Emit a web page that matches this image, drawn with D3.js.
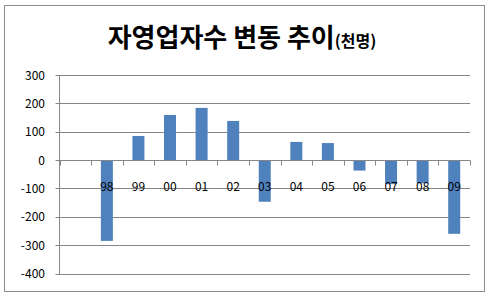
<!DOCTYPE html>
<html>
<head>
<meta charset="utf-8">
<script src="https://cdn.jsdelivr.net/npm/d3@7"></script>
<style>
  body { margin: 0; background: #fff; }
  svg { display: block; }
</style>
</head>
<body>
<svg id="chart" width="487" height="296"></svg>
<script>
// data
var years = ["", "98", "99", "00", "01", "02", "03", "04", "05", "06", "07", "08", "09"];
var changes = [null, -285, 85, 159, 184, 138, -147, 64, 60, -37, -85, -82, -260];
var yTicks = [300, 200, 100, 0, -100, -200, -300, -400];

var svg = d3.select("#chart");
var font = "'Noto Sans CJK KR', 'Malgun Gothic', sans-serif";

// outer frame
svg.append("rect")
    .attr("x", 4.5).attr("y", 5.5)
    .attr("width", 480).attr("height", 286)
    .attr("fill", "#fff")
    .attr("stroke", "#8c8c8c")
    .attr("stroke-width", 1);

// title
var title = svg.append("text")
    .attr("x", 242).attr("y", 47)
    .attr("text-anchor", "middle")
    .attr("font-family", font)
    .attr("font-weight", "bold")
    .attr("fill", "#000");
title.append("tspan").attr("font-size", "26px").text("자영업자수 변동 추이");
title.append("tspan").attr("font-size", "16px").text("(천명)");

// plot area (note: "top" is reserved on window, so use plot* names)
var plotL = 59.5, plotR = 470, plotT = 75, plotB = 273.5;
var x = d3.scaleBand().domain(years.map(function(d, i) { return i; }))
    .range([plotL, plotR]).padding(0);
var y = d3.scaleLinear().domain([-400, 300]).range([plotB, plotT]);

// gridlines
svg.append("g").selectAll("line")
    .data(yTicks.filter(function(d) { return d !== 0; }))
    .enter().append("line")
    .attr("x1", plotL - 4).attr("x2", plotR)
    .attr("y1", function(d) { return Math.round(y(d)) + 0.5; })
    .attr("y2", function(d) { return Math.round(y(d)) + 0.5; })
    .attr("stroke", "#868686").attr("stroke-width", 1);

// y axis line
svg.append("line")
    .attr("x1", plotL).attr("x2", plotL)
    .attr("y1", plotT).attr("y2", plotB + 0.5)
    .attr("stroke", "#868686").attr("stroke-width", 1);

// y tick labels
svg.append("g").selectAll("text")
    .data(yTicks)
    .enter().append("text")
    .attr("x", 45)
    .attr("y", function(d) { return y(d) + 4.5; })
    .attr("text-anchor", "end")
    .attr("font-family", font)
    .attr("font-size", "12px")
    .attr("fill", "#000")
    .text(function(d) { return d; });

// bars
var barW = x.bandwidth() * 0.38;
svg.append("g").selectAll("rect")
    .data(changes.map(function(v, i) { return { i: i, v: v }; }).filter(function(d) { return d.v !== null; }))
    .enter().append("rect")
    .attr("x", function(d) { return x(d.i) + (x.bandwidth() - barW) / 2; })
    .attr("width", barW)
    .attr("y", function(d) { return Math.min(y(d.v), y(0)); })
    .attr("height", function(d) { return Math.abs(y(d.v) - y(0)); })
    .attr("fill", "#4f81bd");

// zero axis with ticks at category boundaries
var y0 = Math.round(y(0)) + 0.5;
svg.append("line")
    .attr("x1", plotL - 4).attr("x2", plotR)
    .attr("y1", y0).attr("y2", y0)
    .attr("stroke", "#868686").attr("stroke-width", 1);
svg.append("g").selectAll("line")
    .data(d3.range(years.length + 1))
    .enter().append("line")
    .attr("x1", function(i) { return Math.round(plotL + i * x.step()) + 0.5; })
    .attr("x2", function(i) { return Math.round(plotL + i * x.step()) + 0.5; })
    .attr("y1", y0).attr("y2", y0 + 5)
    .attr("stroke", "#868686").attr("stroke-width", 1);

// category labels
svg.append("g").selectAll("text")
    .data(years.map(function(d, i) { return { i: i, label: d }; }))
    .enter().append("text")
    .attr("x", function(d) { return x(d.i) + x.bandwidth() / 2; })
    .attr("y", 191)
    .attr("text-anchor", "middle")
    .attr("font-family", font)
    .attr("font-size", "12px")
    .attr("fill", "#000")
    .text(function(d) { return d.label; });
</script>
</body>
</html>
